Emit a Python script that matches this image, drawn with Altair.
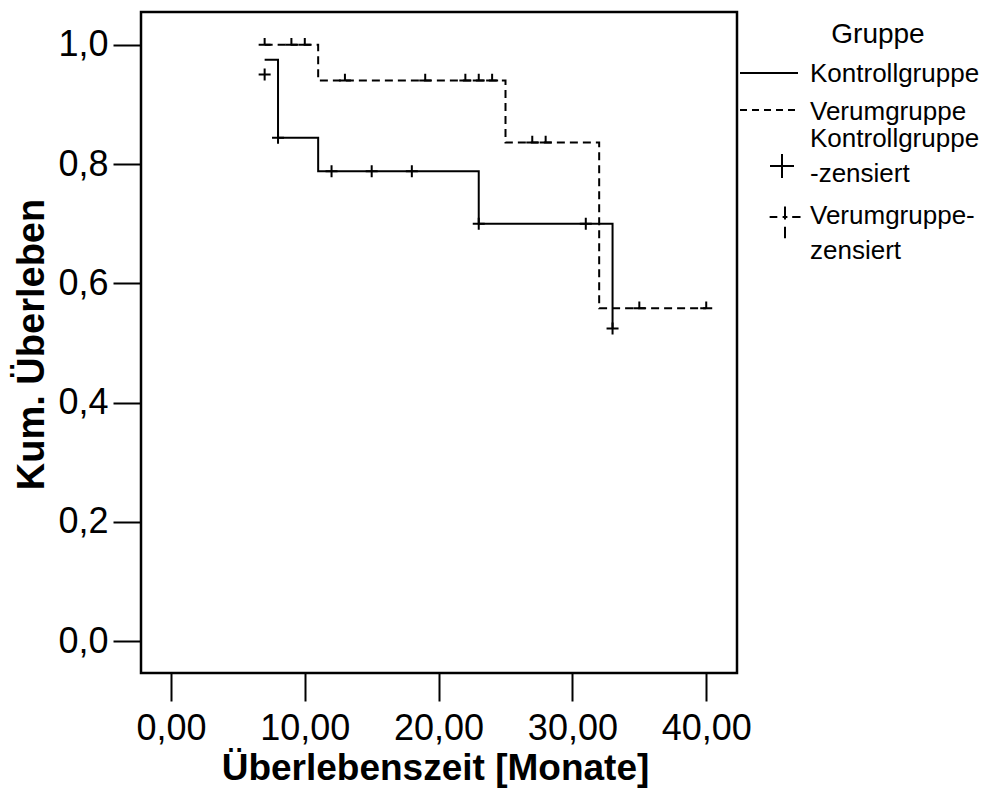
import altair as alt
import pandas as pd

# --- Kaplan-Meier step curves ---
kontroll_time = [7, 8, 11, 23, 33]
kontroll_surv = [0.975, 0.844, 0.788, 0.700, 0.524]
verum_time = [7, 11, 25, 32, 40]
verum_surv = [1.0, 0.940, 0.836, 0.558, 0.558]

# --- censored observations ---
kontroll_cens_time = [7, 8, 12, 15, 18, 23, 31, 33]
kontroll_cens_surv = [0.950, 0.844, 0.788, 0.788, 0.788, 0.700, 0.700, 0.524]
verum_cens_time = [7, 9, 10, 13, 19, 22, 23, 24, 27, 28, 35, 40]
verum_cens_surv = [1.0, 1.0, 1.0, 0.940, 0.940, 0.940, 0.940, 0.940, 0.836, 0.836, 0.558, 0.558]

# --- axes / legend text ---
x_ticks = [0, 10, 20, 30, 40]
y_ticks = [0.0, 0.2, 0.4, 0.6, 0.8, 1.0]
x_title = "Überlebenszeit [Monate]"
y_title = "Kum. Überleben"
legend_title = "Gruppe"
legend_labels = ["Kontrollgruppe", "Verumgruppe", "Kontrollgruppe\n-zensiert", "Verumgruppe-\nzensiert"]

FONT = "Liberation Sans, Arial, sans-serif"

def frame(t, s):
    return pd.DataFrame({"zeit": t, "ueberleben": s})

xs = alt.Scale(domain=[-2.24, 42.30], nice=False, zero=False)
ys = alt.Scale(domain=[-0.0536, 1.055], nice=False, zero=False)

x_axis = alt.Axis(
    values=x_ticks, labelExpr="replace(format(datum.value, '.2f'), '.', ',')",
    domain=False, grid=False, tickSize=28, tickWidth=2, tickColor="black",
    labelFont=FONT, labelFontSize=36, labelColor="black", labelPadding=10,
    title=x_title, titleFont=FONT, titleFontSize=37, titleFontWeight="bold", titleColor="black",
    titleX=294, titleY=106, titleAlign="center", titleBaseline="alphabetic",
)
y_axis = alt.Axis(
    values=y_ticks, labelExpr="replace(format(datum.value, '.1f'), '.', ',')",
    domain=False, grid=False, tickSize=28, tickWidth=2, tickColor="black",
    labelFont=FONT, labelFontSize=36, labelColor="black", labelPadding=5,
    title=y_title, titleFont=FONT, titleFontSize=38, titleFontWeight="bold", titleColor="black",
    titleX=-98, titleY=332, titleAngle=270, titleAlign="center", titleBaseline="alphabetic",
)

kontroll_line = alt.Chart(frame(kontroll_time, kontroll_surv)).mark_line(
    interpolate="step-after", color="black", strokeWidth=2
).encode(
    x=alt.X("zeit:Q", scale=xs, axis=x_axis),
    y=alt.Y("ueberleben:Q", scale=ys, axis=y_axis),
)

verum_line = alt.Chart(frame(verum_time, verum_surv)).mark_line(
    interpolate="step-after", color="black", strokeWidth=2, strokeDash=[8, 5]
).encode(x=alt.X("zeit:Q", scale=xs), y=alt.Y("ueberleben:Q", scale=ys))

kontroll_cens = alt.Chart(frame(kontroll_cens_time, kontroll_cens_surv)).mark_point(
    shape="M-1,0H1M0,-1V1", size=144, filled=False, stroke="black", strokeWidth=2, opacity=1
).encode(x=alt.X("zeit:Q", scale=xs), y=alt.Y("ueberleben:Q", scale=ys))

verum_cens = alt.Chart(frame(verum_cens_time, verum_cens_surv)).mark_point(
    shape="M-1,0H1M0,-1.15V0", size=144, filled=False, stroke="black", strokeWidth=2, opacity=1
).encode(x=alt.X("zeit:Q", scale=xs), y=alt.Y("ueberleben:Q", scale=ys))

# --- legend (drawn beside the plot area) ---
def legend_text(txt, x, y, size=26):
    return alt.Chart(pd.DataFrame({"t": [txt]})).mark_text(
        align="left", baseline="alphabetic", font=FONT, fontSize=size, color="black",
        lineBreak="\n", lineHeight=35,
    ).encode(text="t:N", x=alt.value(x), y=alt.value(y))

one = pd.DataFrame({"k": [0]})
leg_title = alt.Chart(pd.DataFrame({"t": [legend_title]})).mark_text(
    align="center", baseline="alphabetic", font=FONT, fontSize=28, color="black"
).encode(text="t:N", x=alt.value(737), y=alt.value(31))
leg_solid = alt.Chart(one).mark_rule(color="black", strokeWidth=2).encode(
    x=alt.value(599), x2=alt.value(657), y=alt.value(61))
leg_dash = alt.Chart(one).mark_rule(color="black", strokeWidth=2, strokeDash=[7, 5]).encode(
    x=alt.value(599), x2=alt.value(657), y=alt.value(98))
leg_plus = alt.Chart(one).mark_point(
    shape="M-1,0H1M0,-1V1", size=576, filled=False, stroke="black", strokeWidth=2, opacity=1
).encode(x=alt.value(641), y=alt.value(154))
leg_dplus = alt.Chart(one).mark_point(
    shape="M-0.96,-0.25H-0.48M-0.15,-0.25H0.15M0.45,-0.25H0.97M0,-0.9V-0.1M0,0.36V1.08",
    size=1024, filled=False, stroke="black", strokeWidth=2, opacity=1
).encode(x=alt.value(644), y=alt.value(209))

chart = alt.layer(
    verum_line, kontroll_line, kontroll_cens, verum_cens,
    leg_title, leg_solid, leg_dash, leg_plus, leg_dplus,
    legend_text(legend_labels[0], 669, 70),
    legend_text(legend_labels[1], 669, 108),
    legend_text(legend_labels[2], 669, 135),
    legend_text(legend_labels[3], 669, 212),
).properties(
    width=596, height=661,
    autosize=alt.AutoSizeParams(type="none"),
    padding={"left": 133, "top": 4, "right": 244, "bottom": 115},
    background="white",
).configure_view(stroke="black", strokeWidth=2.5)

chart.save("out.html", embed_options={"renderer": "svg", "actions": False})
